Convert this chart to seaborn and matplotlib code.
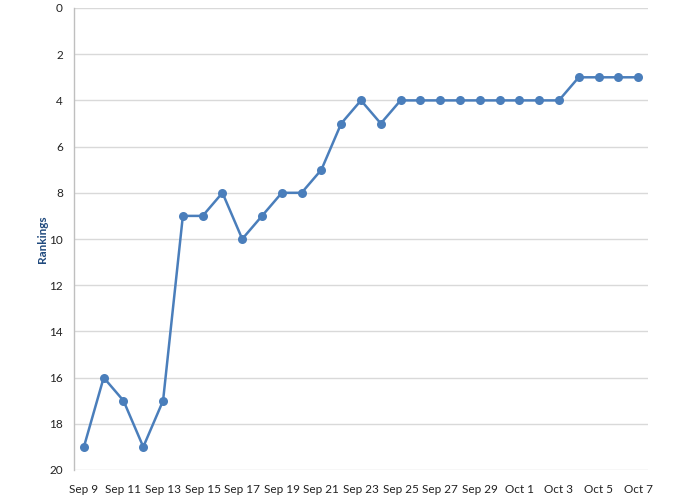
import matplotlib
matplotlib.use("Agg")
import matplotlib.pyplot as plt
import seaborn as sns
import pandas as pd

# Daily ranking data (lower number = better rank)
days = ["Sep 9", "Sep 10", "Sep 11", "Sep 12", "Sep 13", "Sep 14", "Sep 15",
        "Sep 16", "Sep 17", "Sep 18", "Sep 19", "Sep 20", "Sep 21", "Sep 22",
        "Sep 23", "Sep 24", "Sep 25", "Sep 26", "Sep 27", "Sep 28", "Sep 29",
        "Sep 30", "Oct 1", "Oct 2", "Oct 3", "Oct 4", "Oct 5", "Oct 6", "Oct 7"]
rankings = [19, 16, 17, 19, 17, 9, 9, 8, 10, 9, 8, 8, 7, 5, 4, 5, 4, 4, 4, 4,
            4, 4, 4, 4, 4, 3, 3, 3, 3]
y_ticks = [0, 2, 4, 6, 8, 10, 12, 14, 16, 18, 20]

df = pd.DataFrame({"pos": range(len(days)), "day": days, "rank": rankings})

sns.set_style("white")
plt.rcParams["font.family"] = ["Lato", "DejaVu Sans"]

fig = plt.figure(figsize=(7, 5), dpi=100)
ax = fig.add_axes([74 / 700, 1 - 470 / 500, (648 - 74) / 700, (470 - 8) / 500])

sns.lineplot(data=df, x="pos", y="rank", ax=ax, color="#4A7EBB", linewidth=1.8,
             marker="o", markersize=6.5, markeredgewidth=0)

ax.set_ylim(20, 0)
ax.set_yticks(y_ticks)
ax.set_xlim(-0.5, len(days) - 0.5)
ax.set_xticks(df["pos"][::2])
ax.set_xticklabels(df["day"][::2])

ax.grid(axis="y", color="#D9D9D9", linewidth=1)
ax.set_axisbelow(True)
for s in ["top", "right", "bottom"]:
    ax.spines[s].set_visible(False)
ax.spines["left"].set_color("#BFBFBF")
ax.spines["left"].set_linewidth(1)

ax.tick_params(axis="y", length=0, pad=8, labelsize=8.5, labelcolor="#222222")
ax.tick_params(axis="x", length=0, pad=10, labelsize=8.5, labelcolor="#222222")

ax.set_xlabel("")
ax.set_ylabel("Rankings", fontsize=8.5, fontweight="bold", color="#1F497D", labelpad=1)

fig.savefig("out.png", dpi=100)
